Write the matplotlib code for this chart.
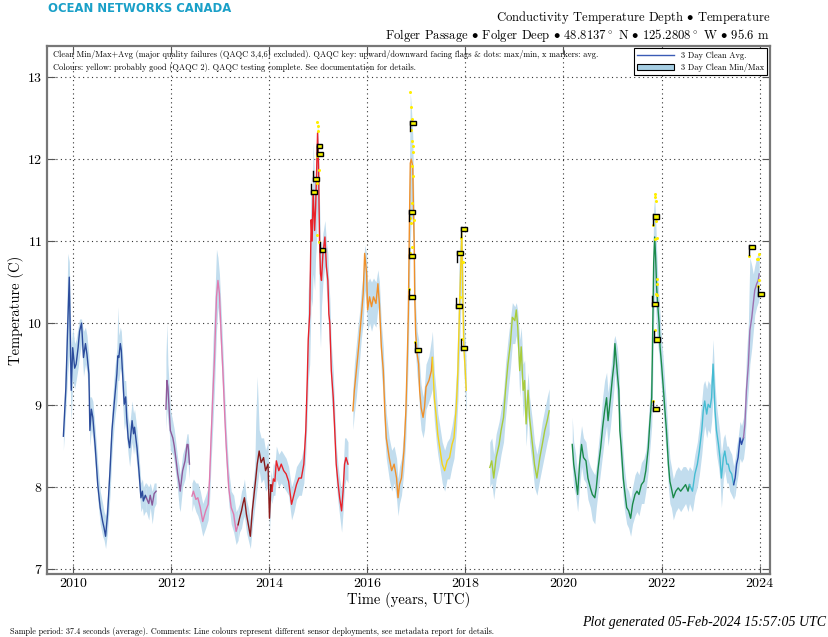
import numpy as np
import matplotlib
matplotlib.use("Agg")
import matplotlib.pyplot as plt
from matplotlib.lines import Line2D
from matplotlib.patches import Patch, Rectangle

plt.rcParams["font.family"] = ["cmr10", "DejaVu Serif"]
plt.rcParams["mathtext.fontset"] = "cm"
plt.rcParams["axes.formatter.use_mathtext"] = True

# 3 day clean data per deployment: (year, avg, min, max)
dep01 = [
    (2009.81, 8.62, 8.45, 8.80), (2009.86, 9.20, 8.95, 9.60), (2009.90, 10.00, 9.40, 10.85),
    (2009.93, 10.56, 9.60, 10.75), (2009.97, 9.18, 8.80, 9.70), (2010.00, 9.70, 9.30, 9.95),
    (2010.04, 9.45, 9.20, 9.75), (2010.07, 9.50, 9.30, 9.80), (2010.11, 9.70, 9.45, 9.95),
    (2010.14, 9.90, 9.60, 10.05), (2010.18, 10.00, 9.75, 10.05), (2010.22, 9.58, 9.35, 9.90),
    (2010.26, 9.75, 9.50, 9.95), (2010.29, 9.62, 9.40, 9.85), (2010.33, 9.38, 9.10, 9.60),
    (2010.35, 8.69, 8.50, 9.10), (2010.38, 8.95, 8.70, 9.10), (2010.41, 8.85, 8.60, 9.05),
    (2010.46, 8.48, 8.25, 8.70), (2010.51, 8.03, 7.85, 8.30), (2010.56, 7.75, 7.55, 7.95),
    (2010.61, 7.58, 7.40, 7.80), (2010.64, 7.50, 7.35, 7.70), (2010.67, 7.40, 7.25, 7.65),
    (2010.71, 7.67, 7.45, 7.90), (2010.76, 8.20, 7.90, 8.50), (2010.80, 8.69, 8.40, 8.95),
    (2010.85, 9.05, 8.80, 9.40), (2010.90, 9.38, 9.05, 9.70), (2010.92, 9.60, 9.30, 10.20),
    (2010.94, 9.58, 9.30, 9.85), (2010.97, 9.75, 9.45, 9.95), (2010.99, 9.67, 9.40, 9.90),
    (2011.02, 9.34, 9.00, 9.60), (2011.05, 9.01, 8.70, 9.30), (2011.08, 9.10, 8.80, 9.30),
    (2011.10, 8.85, 8.60, 9.10), (2011.13, 8.60, 8.40, 8.85), (2011.16, 8.48, 8.25, 8.75),
    (2011.21, 8.81, 8.55, 9.05), (2011.24, 8.65, 8.40, 8.90), (2011.26, 8.73, 8.50, 8.95),
    (2011.31, 8.48, 8.25, 8.70), (2011.35, 8.20, 8.00, 8.40), (2011.39, 7.87, 7.70, 8.05),
    (2011.42, 7.95, 7.75, 8.10), (2011.44, 7.83, 7.65, 8.00), (2011.48, 7.90, 7.70, 8.05),
    (2011.50, 7.87, 7.70, 8.05),
]
dep02 = [
    (2011.50, 7.87, 7.70, 8.05), (2011.55, 7.80, 7.60, 8.00), (2011.58, 7.90, 7.75, 8.05),
    (2011.62, 7.78, 7.55, 7.95), (2011.66, 7.92, 7.75, 8.05), (2011.70, 7.95, 7.80, 8.05),
]
dep03 = [
    (2011.90, 8.95, 8.70, 9.60), (2011.92, 9.30, 8.95, 10.00), (2011.94, 9.22, 8.80, 9.50),
    (2011.97, 8.90, 8.65, 9.20), (2011.99, 8.69, 8.45, 8.95), (2012.04, 8.60, 8.40, 8.80),
    (2012.07, 8.50, 8.30, 8.70), (2012.10, 8.36, 8.15, 8.55), (2012.14, 8.16, 7.95, 8.35),
    (2012.17, 8.05, 7.75, 8.25), (2012.19, 7.95, 7.70, 8.15), (2012.24, 8.20, 8.00, 8.40),
    (2012.29, 8.32, 8.10, 8.50), (2012.33, 8.52, 8.30, 8.65), (2012.35, 8.52, 8.30, 8.65),
    (2012.38, 8.28, 8.10, 8.45),
]
dep04 = [
    (2012.43, 7.89, 7.70, 8.05), (2012.46, 7.95, 7.80, 8.10), (2012.51, 7.85, 7.70, 8.05),
    (2012.55, 7.87, 7.65, 8.05), (2012.60, 7.75, 7.55, 7.95), (2012.65, 7.58, 7.40, 7.80),
    (2012.71, 7.71, 7.50, 7.90), (2012.76, 7.79, 7.60, 8.00), (2012.79, 8.11, 7.85, 8.40),
    (2012.82, 8.60, 8.30, 9.00), (2012.86, 9.18, 8.80, 9.80), (2012.89, 9.58, 9.20, 10.20),
    (2012.93, 10.32, 9.90, 10.90), (2012.96, 10.52, 10.20, 10.80), (2012.99, 10.36, 10.00, 10.60),
    (2013.03, 9.79, 9.50, 10.10), (2013.06, 9.42, 9.15, 9.70), (2013.10, 8.85, 8.60, 9.10),
    (2013.13, 8.48, 8.25, 8.70), (2013.18, 7.99, 7.80, 8.20), (2013.23, 7.75, 7.55, 7.95),
    (2013.28, 7.67, 7.45, 7.90), (2013.33, 7.46, 7.30, 7.70), (2013.37, 7.54, 7.35, 7.75),
]
dep05 = [
    (2013.37, 7.54, 7.35, 7.75), (2013.40, 7.62, 7.45, 7.80), (2013.44, 7.71, 7.50, 7.95),
    (2013.47, 7.80, 7.60, 8.00), (2013.50, 7.87, 7.65, 8.10), (2013.54, 7.67, 7.45, 7.85),
    (2013.58, 7.54, 7.35, 7.75), (2013.62, 7.40, 7.25, 7.60), (2013.66, 7.71, 7.50, 7.95),
    (2013.71, 7.99, 7.75, 8.25), (2013.73, 8.10, 7.85, 8.80), (2013.76, 8.28, 8.00, 9.35),
    (2013.80, 8.44, 8.20, 8.70), (2013.84, 8.30, 8.05, 8.60), (2013.89, 8.36, 8.10, 8.60),
    (2013.93, 8.20, 7.95, 8.45), (2013.98, 8.28, 8.00, 8.55), (2014.01, 7.62, 7.45, 7.90),
    (2014.04, 8.03, 7.85, 8.20), (2014.06, 7.95, 7.80, 8.10),
]
dep06 = [
    (2014.06, 7.95, 7.80, 8.10), (2014.09, 8.10, 7.90, 8.30), (2014.12, 8.07, 7.90, 8.25),
    (2014.15, 8.32, 8.10, 8.50), (2014.20, 8.20, 8.00, 8.40), (2014.25, 8.28, 8.05, 8.45),
    (2014.30, 8.20, 8.00, 8.40), (2014.35, 8.16, 7.95, 8.35), (2014.40, 8.07, 7.90, 8.25),
    (2014.46, 7.79, 7.60, 8.00), (2014.51, 7.91, 7.70, 8.10), (2014.56, 8.03, 7.85, 8.25),
    (2014.61, 8.11, 7.90, 8.30), (2014.66, 8.11, 7.90, 8.35), (2014.71, 8.28, 8.05, 8.50),
    (2014.75, 8.69, 8.40, 9.00), (2014.78, 9.30, 8.90, 9.70), (2014.80, 9.80, 9.30, 10.40),
    (2014.83, 10.11, 9.50, 10.70), (2014.86, 11.26, 10.30, 11.80), (2014.88, 11.00, 10.20, 11.50),
    (2014.90, 11.62, 10.60, 12.20), (2014.93, 11.13, 10.40, 11.70), (2014.95, 11.40, 10.80, 11.80),
    (2014.97, 11.83, 11.00, 12.10), (2014.99, 12.32, 11.40, 12.45), (2015.01, 11.91, 11.20, 12.20),
    (2015.03, 11.01, 10.00, 11.50), (2015.05, 10.60, 9.70, 11.00), (2015.07, 10.52, 10.20, 10.90),
    (2015.10, 10.85, 10.50, 11.10), (2015.14, 11.05, 10.70, 11.25), (2015.17, 10.69, 10.40, 11.00),
    (2015.20, 10.52, 10.20, 10.85), (2015.22, 10.11, 9.80, 10.50), (2015.24, 10.00, 9.70, 10.30),
    (2015.27, 9.42, 9.10, 9.75), (2015.31, 9.09, 8.80, 9.40), (2015.34, 8.69, 8.45, 8.95),
    (2015.37, 8.28, 8.05, 8.50), (2015.41, 8.03, 7.80, 8.25), (2015.44, 7.87, 7.65, 8.10),
    (2015.48, 7.71, 7.45, 7.95), (2015.51, 7.95, 7.70, 8.20), (2015.54, 8.28, 8.00, 8.60),
    (2015.57, 8.36, 8.10, 8.60), (2015.61, 8.28, 8.05, 8.55),
]
dep07 = [
    (2015.71, 8.93, 8.70, 9.20), (2015.74, 9.18, 8.90, 9.50), (2015.78, 9.42, 9.10, 9.75),
    (2015.81, 9.60, 9.30, 9.95), (2015.84, 9.79, 9.50, 10.10), (2015.88, 10.07, 9.80, 10.40),
    (2015.92, 10.36, 10.00, 10.60), (2015.95, 10.85, 10.40, 10.95), (2015.99, 10.60, 10.20, 10.85),
    (2016.01, 10.16, 9.90, 10.50), (2016.05, 10.32, 10.00, 10.55), (2016.09, 10.20, 9.90, 10.50),
    (2016.13, 10.32, 10.00, 10.55), (2016.18, 10.24, 9.95, 10.50), (2016.22, 10.48, 10.20, 10.65),
    (2016.25, 10.24, 9.95, 10.50), (2016.29, 9.71, 9.40, 10.00), (2016.33, 9.42, 9.10, 9.70),
    (2016.36, 8.93, 8.60, 9.20), (2016.39, 8.60, 8.35, 8.90), (2016.45, 8.36, 8.10, 8.60),
    (2016.50, 8.20, 7.95, 8.45), (2016.55, 8.28, 8.05, 8.50), (2016.60, 8.11, 7.85, 8.35),
    (2016.63, 7.87, 7.65, 8.10), (2016.66, 8.03, 7.80, 8.25), (2016.70, 8.11, 7.90, 8.35),
    (2016.75, 8.44, 8.20, 8.70), (2016.79, 8.93, 8.60, 9.30), (2016.82, 9.60, 9.20, 10.20),
    (2016.84, 10.11, 9.60, 10.90), (2016.86, 11.13, 10.30, 11.80), (2016.88, 11.95, 11.00, 12.80),
    (2016.90, 12.00, 11.30, 12.65), (2016.93, 11.91, 11.20, 12.30), (2016.94, 11.54, 10.90, 11.90),
    (2016.96, 10.93, 10.40, 11.30), (2016.97, 10.32, 9.90, 10.80), (2016.99, 9.87, 9.60, 10.20),
    (2017.02, 9.62, 9.35, 9.90), (2017.05, 9.50, 9.20, 9.80), (2017.07, 9.18, 8.90, 9.50),
    (2017.10, 8.97, 8.70, 9.25), (2017.14, 8.85, 8.60, 9.10), (2017.17, 8.97, 8.70, 9.25),
    (2017.20, 9.22, 8.95, 9.50), (2017.26, 9.30, 9.05, 9.60), (2017.31, 9.42, 9.15, 9.80),
    (2017.33, 9.58, 9.20, 9.90),
]
dep08 = [
    (2017.33, 9.58, 9.20, 9.90), (2017.37, 9.09, 8.80, 9.40), (2017.41, 8.85, 8.55, 9.15),
    (2017.44, 8.64, 8.40, 8.90), (2017.48, 8.48, 8.25, 8.75), (2017.53, 8.28, 8.05, 8.55),
    (2017.58, 8.20, 7.95, 8.45), (2017.63, 8.32, 8.10, 8.55), (2017.68, 8.36, 8.10, 8.60),
    (2017.73, 8.52, 8.25, 8.75), (2017.77, 8.60, 8.35, 8.90), (2017.82, 9.01, 8.70, 9.40),
    (2017.85, 9.42, 9.05, 10.00), (2017.88, 10.11, 9.60, 10.90), (2017.91, 10.73, 10.20, 11.15),
    (2017.93, 11.10, 10.50, 11.20), (2017.95, 10.32, 9.90, 10.80), (2017.97, 9.71, 9.40, 10.10),
    (2018.00, 9.42, 9.10, 9.80), (2018.02, 9.18, 8.90, 9.50),
]
dep09 = [
    (2018.50, 8.24, 8.00, 8.55), (2018.54, 8.32, 8.05, 8.60), (2018.58, 8.11, 7.85, 8.40),
    (2018.63, 8.36, 8.10, 8.65), (2018.69, 8.52, 8.25, 8.80), (2018.73, 8.69, 8.40, 8.95),
    (2018.78, 8.85, 8.55, 9.15), (2018.82, 9.18, 8.85, 9.50), (2018.87, 9.50, 9.15, 9.80),
    (2018.92, 9.75, 9.45, 10.05), (2018.96, 10.07, 9.75, 10.25), (2019.01, 10.03, 9.75, 10.20),
    (2019.04, 10.16, 9.85, 10.25), (2019.07, 9.95, 9.65, 10.15), (2019.11, 9.42, 9.10, 9.80),
    (2019.14, 9.71, 9.40, 9.95), (2019.18, 9.18, 8.85, 9.50), (2019.21, 9.30, 9.00, 9.55),
    (2019.24, 8.77, 8.50, 9.05), (2019.28, 9.18, 8.90, 9.40), (2019.31, 8.85, 8.55, 9.10),
    (2019.37, 8.52, 8.25, 8.80), (2019.41, 8.28, 8.00, 8.55), (2019.46, 8.11, 7.90, 8.40),
    (2019.52, 8.36, 8.10, 8.60), (2019.57, 8.52, 8.25, 8.80), (2019.62, 8.69, 8.40, 8.95),
    (2019.67, 8.81, 8.55, 9.10), (2019.71, 8.93, 8.65, 9.20),
]
dep10 = [
    (2020.18, 8.52, 8.25, 8.85), (2020.21, 8.28, 8.00, 8.55), (2020.25, 8.11, 7.90, 8.40),
    (2020.29, 7.91, 7.70, 8.15), (2020.33, 8.28, 8.00, 8.55), (2020.37, 8.52, 8.25, 8.75),
    (2020.41, 8.36, 8.10, 8.60), (2020.46, 8.32, 8.05, 8.55), (2020.50, 8.11, 7.85, 8.35),
    (2020.55, 7.99, 7.75, 8.25), (2020.59, 7.91, 7.60, 8.20), (2020.64, 7.87, 7.55, 8.15),
    (2020.67, 7.99, 7.75, 8.25), (2020.71, 8.24, 7.95, 8.50), (2020.76, 8.48, 8.20, 8.80),
    (2020.80, 8.73, 8.40, 9.10), (2020.84, 8.93, 8.60, 9.30), (2020.88, 9.09, 8.75, 9.40),
    (2020.91, 8.81, 8.50, 9.15), (2020.96, 9.09, 8.75, 9.40), (2021.00, 9.34, 9.00, 9.65),
    (2021.03, 9.50, 9.20, 9.80), (2021.05, 9.75, 9.40, 9.85), (2021.10, 9.38, 9.05, 9.70),
    (2021.13, 9.18, 8.85, 9.50), (2021.15, 8.69, 8.40, 9.00), (2021.18, 8.48, 8.20, 8.80),
    (2021.22, 8.11, 7.85, 8.40), (2021.25, 7.95, 7.70, 8.20), (2021.29, 7.75, 7.55, 8.00),
    (2021.33, 7.71, 7.50, 7.95), (2021.37, 7.62, 7.40, 7.85), (2021.41, 7.79, 7.55, 8.00),
    (2021.46, 7.91, 7.65, 8.15), (2021.50, 7.95, 7.70, 8.20), (2021.54, 7.91, 7.65, 8.15),
    (2021.59, 8.03, 7.80, 8.30), (2021.64, 8.07, 7.80, 8.35), (2021.68, 8.20, 7.95, 8.45),
    (2021.73, 8.48, 8.20, 8.80), (2021.76, 8.77, 8.45, 9.10), (2021.80, 9.09, 8.75, 9.60),
    (2021.82, 9.91, 9.30, 10.60), (2021.84, 10.73, 10.00, 11.40), (2021.86, 11.05, 10.40, 11.55),
    (2021.88, 10.80, 10.20, 11.30), (2021.90, 10.44, 9.90, 10.90), (2021.93, 10.16, 9.70, 10.50),
    (2021.95, 10.00, 9.60, 10.30), (2021.97, 9.71, 9.40, 10.10), (2022.00, 9.50, 9.20, 9.80),
    (2022.03, 9.26, 8.95, 9.60), (2022.07, 8.93, 8.60, 9.25), (2022.10, 8.69, 8.40, 9.00),
    (2022.14, 8.28, 8.00, 8.60), (2022.17, 8.07, 7.80, 8.35), (2022.20, 7.99, 7.75, 8.25),
    (2022.24, 7.87, 7.60, 8.10), (2022.29, 7.95, 7.70, 8.20), (2022.34, 7.99, 7.75, 8.25),
    (2022.39, 7.95, 7.70, 8.20), (2022.44, 7.99, 7.75, 8.25), (2022.49, 8.03, 7.80, 8.25),
    (2022.54, 7.95, 7.70, 8.20), (2022.57, 8.03, 7.80, 8.25),
]
dep11 = [
    (2022.57, 8.03, 7.80, 8.25), (2022.63, 7.95, 7.70, 8.20), (2022.68, 8.16, 7.90, 8.40),
    (2022.73, 8.28, 8.00, 8.55), (2022.77, 8.44, 8.15, 8.75), (2022.82, 8.69, 8.40, 9.05),
    (2022.85, 8.93, 8.60, 9.25), (2022.88, 9.05, 8.75, 9.30), (2022.92, 8.89, 8.60, 9.20),
    (2022.95, 9.01, 8.70, 9.30), (2022.99, 8.97, 8.65, 9.25), (2023.02, 9.09, 8.80, 9.40),
    (2023.05, 9.50, 9.10, 9.80), (2023.09, 8.93, 8.60, 9.25), (2023.12, 8.69, 8.40, 9.00),
    (2023.16, 8.52, 8.25, 8.80), (2023.19, 8.36, 8.10, 8.65), (2023.22, 8.11, 7.75, 8.40),
    (2023.26, 8.36, 8.10, 8.60), (2023.29, 8.44, 8.20, 8.65), (2023.33, 8.28, 8.05, 8.50),
    (2023.36, 8.28, 8.05, 8.50), (2023.39, 8.20, 7.95, 8.45), (2023.43, 8.16, 7.90, 8.40),
    (2023.47, 8.03, 7.85, 8.25),
]
dep12 = [
    (2023.47, 8.03, 7.85, 8.25), (2023.50, 8.11, 7.90, 8.35), (2023.53, 8.28, 8.05, 8.50),
    (2023.56, 8.36, 8.15, 8.60), (2023.60, 8.60, 8.35, 8.80), (2023.63, 8.52, 8.30, 8.75),
    (2023.67, 8.60, 8.35, 8.85),
]
dep13 = [
    (2023.67, 8.60, 8.35, 8.85), (2023.70, 8.77, 8.50, 9.10), (2023.73, 9.18, 8.90, 9.60),
    (2023.77, 9.50, 9.20, 10.00), (2023.80, 9.91, 9.50, 10.80), (2023.84, 10.07, 9.70, 10.70),
    (2023.87, 10.24, 9.90, 10.60), (2023.90, 10.40, 10.10, 10.70), (2023.94, 10.48, 10.20, 10.80),
    (2023.97, 10.52, 10.25, 10.85), (2023.99, 10.60, 10.30, 10.85),
]

dep_colours = ["#2c4c9c", "#8a5a9a", "#8e5a9b", "#e07bb0", "#8b1a1a", "#e8222a", "#f0902a",
               "#f5d31a", "#a8cc3a", "#1a8a4a", "#45bcd2", "#2a4aa8", "#9c70b0"]

# QAQC 2 flags (flag pole position, flag level, facing)
flag_year = [2014.97, 2014.98, 2014.90, 2014.86, 2015.03,
             2016.87, 2016.85, 2016.85, 2016.86, 2016.97,
             2017.91, 2017.83, 2017.82, 2017.91,
             2021.83, 2021.81, 2021.85, 2021.83,
             2023.78, 2023.96]
flag_temp = [12.16, 12.06, 11.76, 11.60, 10.89,
             12.44, 11.35, 10.82, 10.32, 9.67,
             11.15, 10.85, 10.21, 9.70,
             11.30, 10.23, 9.80, 8.95,
             10.93, 10.35]
flag_dir = ["up", "down", "down", "down", "down",
            "up", "up", "down", "down", "down",
            "up", "up", "down", "down",
            "up", "down", "down", "down",
            "up", "down"]

# QAQC 2 dots
dot_year = [2014.98, 2014.99, 2015.00, 2014.97, 2015.01, 2014.98, 2014.97, 2015.02,
            2016.88, 2016.90, 2016.91, 2016.90, 2016.92, 2016.93, 2016.94, 2016.92,
            2016.94, 2016.91, 2016.88, 2016.95, 2016.89, 2016.91, 2016.87, 2016.86, 2016.97,
            2017.92, 2017.95, 2017.90, 2017.93,
            2021.86, 2021.87, 2021.89, 2021.83, 2021.89, 2021.87, 2021.90, 2021.91,
            2021.90, 2021.88, 2021.91, 2021.86, 2021.83,
            2023.78, 2023.99, 2023.95, 2023.96, 2023.98, 2023.97]
dot_temp = [12.45, 12.40, 12.34, 12.04, 11.87, 11.71, 11.08, 10.99,
            12.82, 12.63, 12.49, 12.36, 12.22, 12.16, 12.09, 11.92,
            11.79, 11.47, 11.28, 11.26, 11.22, 10.93, 10.85, 10.42, 9.77,
            11.04, 10.75, 10.32, 9.81,
            11.58, 11.54, 11.49, 11.20, 11.24, 11.03, 11.04, 10.54,
            10.48, 10.36, 10.34, 9.91, 9.05,
            10.82, 10.84, 10.78, 10.78, 10.52, 10.45]

x_ticks = [2010, 2012, 2014, 2016, 2018, 2020, 2022, 2024]
y_ticks = [7, 8, 9, 10, 11, 12, 13]

band_colour = "#c2ddee"

fig = plt.figure(figsize=(8.29, 6.37), dpi=100)
ax = fig.add_axes([0.0561, 0.0989, 0.8727, 0.8290])

deployments = [dep01, dep02, dep03, dep04, dep05, dep06, dep07,
               dep08, dep09, dep10, dep11, dep12, dep13]

# min/max bands first, then the average lines on top
for dep in deployments:
    arr = np.array(dep)
    ax.fill_between(arr[:, 0], arr[:, 2], arr[:, 3], color=band_colour, lw=0, zorder=2)
for dep, col in zip(deployments, dep_colours):
    arr = np.array(dep)
    ax.plot(arr[:, 0], arr[:, 1], color=col, lw=1.0, zorder=3)

ax.plot(dot_year, dot_temp, "o", color="#ffee00", ms=2.2, mew=0, zorder=4)

# flags: pole plus little yellow rectangle
pole = 0.1
fw, fh = 0.12, 0.05
for x, t, d in zip(flag_year, flag_temp, flag_dir):
    if d == "up":
        ax.plot([x, x], [t - pole, t + fh / 2], color="black", lw=1, zorder=5)
    else:
        ax.plot([x, x], [t - fh / 2, t + pole], color="black", lw=1, zorder=5)
    ax.add_patch(Rectangle((x, t - fh / 2), fw, fh, facecolor="#f5f500",
                           edgecolor="black", lw=1, zorder=6))

ax.set_xlim(2009.466, 2024.21)
ax.set_ylim(6.94, 13.38)
ax.set_xticks(x_ticks)
ax.set_xticklabels([str(v) for v in x_ticks])
ax.set_yticks(y_ticks)
ax.grid(True, linestyle=(0, (1, 3)), color="#333333", lw=0.8)
ax.tick_params(direction="in", length=6, top=True, right=True, labelsize=10,
               color="#555555", width=0.8, pad=3)
for sp in ax.spines.values():
    sp.set_color("#777777")
    sp.set_linewidth(1.6)

ax.set_xlabel("Time (years, UTC)", fontsize=10.5, labelpad=1)
ax.set_ylabel("Temperature (C)", fontsize=10.5, labelpad=2)

ax.text(0.009, 0.992,
        "Clean Min/Max+Avg (major quality failures (QAQC 3,4,6) excluded). QAQC key: "
        "upward/downward facing flags & dots: max/min, x markers: avg.\n"
        "Colours: yellow: probably good (QAQC 2). QAQC testing complete. See documentation for details.",
        transform=ax.transAxes, fontsize=6.0, va="top", ha="left", linespacing=1.6)

handles = [Line2D([0], [0], color="#3a5bb5", lw=1),
           Patch(facecolor="#a6cee3", edgecolor="black", lw=0.8)]
leg = ax.legend(handles, ["3 Day Clean Avg.", "3 Day Clean Min/Max"], loc="upper right",
                fontsize=6, frameon=True, fancybox=False, framealpha=1, edgecolor="black",
                handlelength=4.5, borderaxespad=0.3, borderpad=0.4, labelspacing=0.3)
leg.get_frame().set_linewidth(0.8)
leg.set_zorder(10)

fig.text(0.058, 0.987, "OCEAN NETWORKS CANADA", color="#1aa0c8", fontsize=8.4,
         fontweight="bold", family="DejaVu Sans", va="center", ha="left")
fig.text(0.929, 0.972, "Conductivity Temperature Depth $\\bullet$ Temperature",
         fontsize=9.1, ha="right", va="center")
fig.text(0.929, 0.945,
         "Folger Passage $\\bullet$ Folger Deep $\\bullet$ 48.8137$^\\circ$ N $\\bullet$ "
         "125.2808$^\\circ$ W $\\bullet$ 95.6 m",
         fontsize=9.1, ha="right", va="center")
fig.text(0.012, 0.009,
         "Sample period: 37.4 seconds (average). Comments: Line colours represent different "
         "sensor deployments, see metadata report for details.",
         fontsize=5.85, ha="left", va="center")
fig.text(0.996, 0.0235, "Plot generated 05-Feb-2024 15:57:05 UTC", fontsize=10,
         family="Liberation Serif", style="italic", ha="right", va="center")

fig.savefig("out.png", dpi=100)
